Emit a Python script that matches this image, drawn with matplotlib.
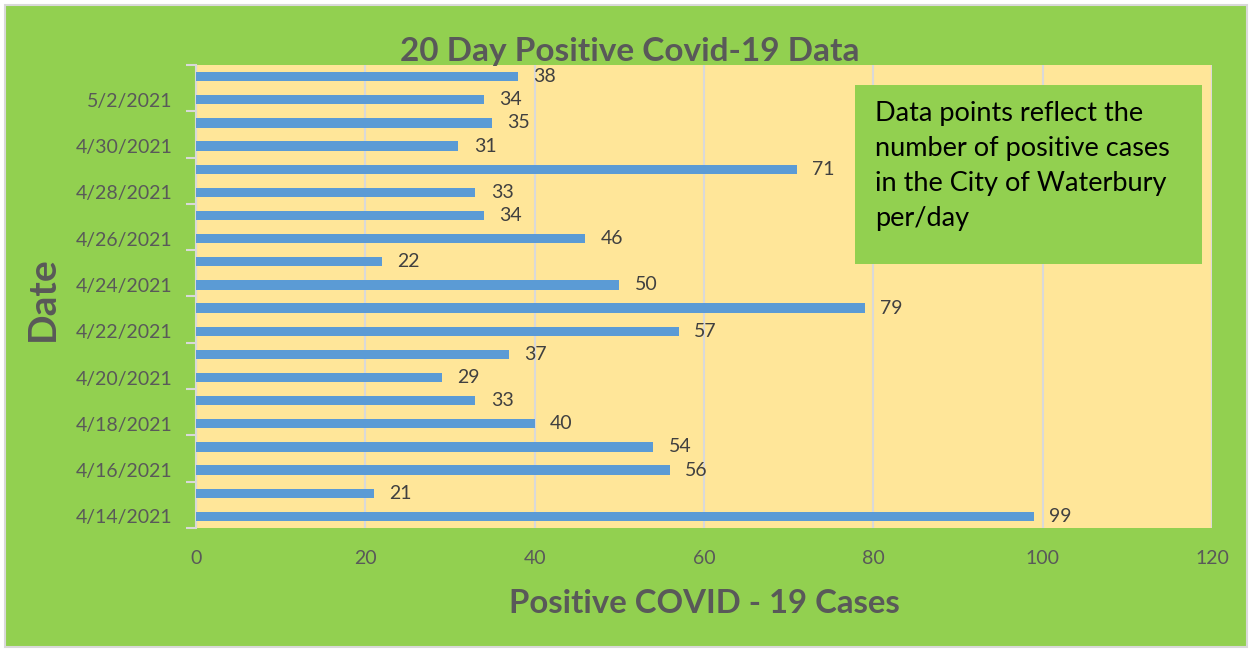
import matplotlib
matplotlib.use("Agg")
import matplotlib.pyplot as plt
from matplotlib.patches import Rectangle

dates = ["4/14/2021", "4/15/2021", "4/16/2021", "4/17/2021", "4/18/2021",
         "4/19/2021", "4/20/2021", "4/21/2021", "4/22/2021", "4/23/2021",
         "4/24/2021", "4/25/2021", "4/26/2021", "4/27/2021", "4/28/2021",
         "4/29/2021", "4/30/2021", "5/1/2021", "5/2/2021", "5/3/2021"]
cases = [99, 21, 56, 54, 40, 33, 29, 37, 57, 79,
         50, 22, 46, 34, 33, 71, 31, 35, 34, 38]

plt.rcParams["font.family"] = ["Lato", "DejaVu Sans"]

green = "#92D050"
yellow = "#FFE699"
blue = "#5B9BD5"
grey_txt = "#595959"

fig = plt.figure(figsize=(12.52, 6.52), dpi=100)
fig.patch.set_facecolor("white")
fig.add_artist(Rectangle((5 / 1252, 5 / 652), 1242 / 1252, 642 / 652,
                         transform=fig.transFigure, facecolor=green,
                         edgecolor="#D9D9D9", lw=1.5, zorder=-1))

ax = fig.add_axes([196 / 1252, 1 - 528 / 652, (1212 - 196) / 1252, (528 - 65) / 652])
ax.set_facecolor(yellow)

y = list(range(len(dates)))
ax.barh(y, cases, height=0.4, color=blue, zorder=3)
for yi, v in zip(y, cases):
    ax.text(v + 1.8, yi, str(v), va="center", ha="left", fontsize=14,
            color="#404040", zorder=4)

ax.set_xlim(0, 120)
ax.set_ylim(-0.5, len(dates) - 0.5)
ax.set_xticks(range(0, 121, 20))
ax.xaxis.grid(True, color="#D9D9D9", lw=1.5, zorder=1)
ax.tick_params(axis="x", length=0, labelsize=14, labelcolor=grey_txt, pad=16)

ax.set_yticks(y[::2])
ax.set_yticklabels(dates[::2])
ax.set_yticks([i - 0.5 for i in range(0, len(dates) + 1, 2)], minor=True)
ax.tick_params(axis="y", which="major", length=0, labelsize=14,
               labelcolor=grey_txt, pad=17)
ax.tick_params(axis="y", which="minor", length=7, width=1.5, color="#D9D9D9")

for s in ["top", "right", "bottom"]:
    ax.spines[s].set_visible(False)
ax.spines["left"].set_color("#D9D9D9")
ax.spines["left"].set_linewidth(1.5)

fig.text(630 / 1252, 1 - 51 / 652, "20 Day Positive Covid-19 Data",
         ha="center", va="center", fontsize=24, fontweight="bold", color=grey_txt)
ax.set_xlabel("Positive COVID - 19 Cases", fontsize=23.7, fontweight="bold",
              color=grey_txt, labelpad=16)
fig.text(42 / 1252, 1 - 299 / 652, "Date", rotation=90, ha="center",
         va="center", fontsize=28, fontweight="bold", color=grey_txt)

fig.add_artist(Rectangle((855 / 1252, 1 - 264 / 652), (1202 - 855) / 1252,
                         (264 - 85) / 652, transform=fig.transFigure,
                         facecolor=green, edgecolor="none", zorder=5))
fig.text(875 / 1252, 1 - 101 / 652,
         "Data points reflect the\nnumber of positive cases\nin the City of Waterbury\nper/day",
         ha="left", va="top", fontsize=19.5, color="black", linespacing=1.5, zorder=6)

fig.savefig("out.png", dpi=100)
